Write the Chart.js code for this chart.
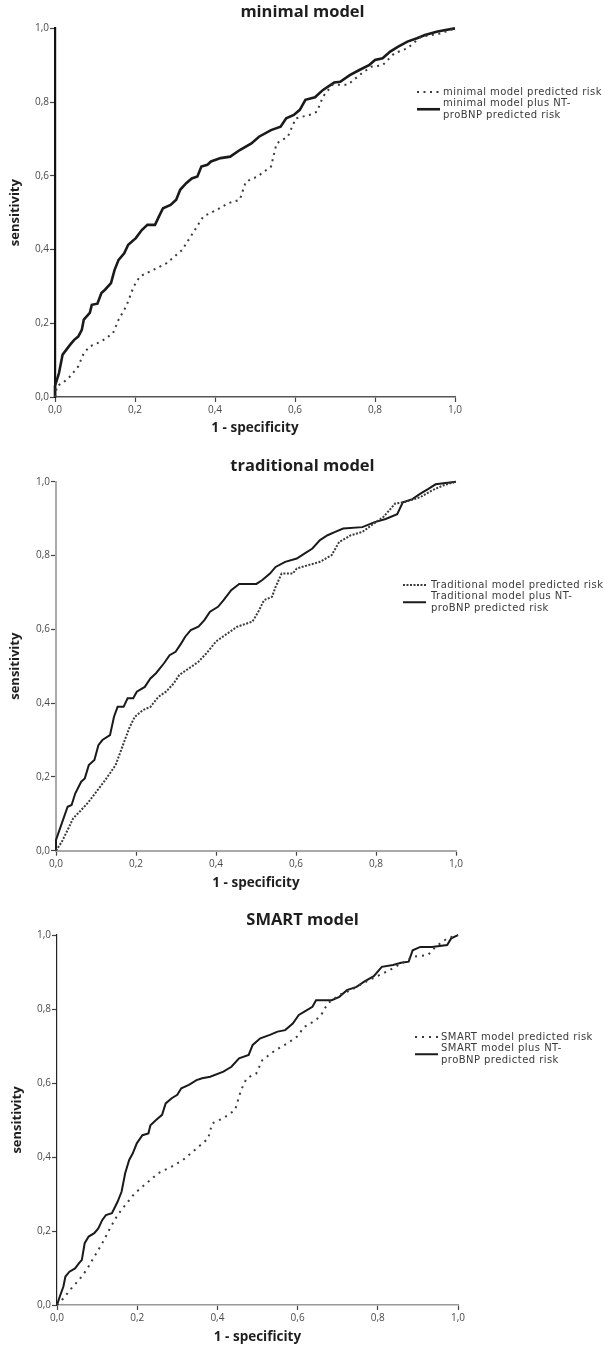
<!DOCTYPE html>
<html><head><meta charset="utf-8">
<script src="https://cdn.jsdelivr.net/npm/chart.js@4.4.0/dist/chart.umd.min.js"></script>
<style>
html,body{margin:0;padding:0;background:#fff;width:605px;height:1345px;overflow:hidden}
canvas{position:absolute;left:0}
</style></head><body>
<canvas id="c1" width="605" height="445" style="top:0px"></canvas>
<canvas id="c2" width="605" height="450" style="top:445px"></canvas>
<canvas id="c3" width="605" height="450" style="top:895px"></canvas>
<script>
// ---- data ----
const tickValues = [0, 0.2, 0.4, 0.6, 0.8, 1.0];
const tickLabels = ['0,0', '0,2', '0,4', '0,6', '0,8', '1,0'];
const chartTitles = ['minimal model', 'traditional model', 'SMART model'];
const xAxisTitle = '1 - specificity';
const yAxisTitle = 'sensitivity';

const minimalLegend = [['minimal model predicted risk'], ['minimal model plus NT-', 'proBNP predicted risk']];
const traditionalLegend = [['Traditional model predicted risk'], ['Traditional model plus NT-', 'proBNP predicted risk']];
const smartLegend = [['SMART model predicted risk'], ['SMART model plus NT-', 'proBNP predicted risk']];

const minimalBaseFpr = [0,0.005,0.019,0.038,0.058,0.072,0.087,0.116,0.145,0.159,0.178,0.197,0.212,0.246,0.279,0.318,0.342,0.371,0.405,0.434,0.462,0.477,0.506,0.54,0.554,0.582,0.602,0.636,0.655,0.67,0.694,0.732,0.761,0.79,0.819,0.848,0.881,0.915,0.963,1];
const minimalBaseTpr = [0,0.03,0.038,0.056,0.083,0.119,0.137,0.151,0.173,0.21,0.246,0.3,0.327,0.345,0.363,0.399,0.44,0.49,0.508,0.526,0.535,0.584,0.598,0.625,0.688,0.706,0.756,0.765,0.774,0.815,0.847,0.847,0.873,0.896,0.9,0.932,0.946,0.977,0.986,1];
const minimalNtFpr = [0,0,0.01,0.019,0.038,0.048,0.058,0.067,0.072,0.087,0.092,0.106,0.116,0.125,0.14,0.149,0.159,0.173,0.183,0.202,0.217,0.231,0.25,0.26,0.27,0.289,0.303,0.313,0.328,0.342,0.356,0.366,0.381,0.39,0.414,0.438,0.462,0.491,0.51,0.54,0.564,0.578,0.597,0.612,0.626,0.65,0.67,0.698,0.713,0.737,0.761,0.785,0.8,0.819,0.838,0.857,0.881,0.905,0.925,0.954,0.973,1];
const minimalNtTpr = [0,0.03,0.065,0.115,0.142,0.155,0.164,0.182,0.21,0.228,0.25,0.253,0.282,0.291,0.309,0.345,0.372,0.39,0.413,0.431,0.453,0.467,0.467,0.49,0.512,0.521,0.535,0.562,0.58,0.593,0.598,0.625,0.63,0.639,0.648,0.652,0.67,0.688,0.706,0.724,0.733,0.756,0.765,0.779,0.806,0.813,0.833,0.853,0.855,0.873,0.887,0.9,0.914,0.919,0.937,0.95,0.964,0.973,0.982,0.991,0.995,1];

const traditionalBaseFpr = [0,0.0145,0.029,0.043,0.063,0.082,0.101,0.12,0.135,0.149,0.169,0.183,0.197,0.217,0.236,0.256,0.275,0.294,0.308,0.332,0.356,0.376,0.4,0.429,0.453,0.491,0.506,0.52,0.54,0.549,0.564,0.592,0.602,0.631,0.66,0.689,0.708,0.737,0.766,0.795,0.819,0.848,0.872,0.91,0.939,0.968,1];
const traditionalBaseTpr = [0,0.024,0.056,0.088,0.11,0.133,0.16,0.187,0.21,0.232,0.291,0.332,0.363,0.381,0.39,0.417,0.431,0.453,0.476,0.494,0.512,0.535,0.567,0.589,0.607,0.621,0.648,0.679,0.688,0.715,0.751,0.751,0.765,0.774,0.783,0.801,0.837,0.855,0.864,0.887,0.905,0.941,0.945,0.958,0.976,0.99,1];
const traditionalNtFpr = [0,0,0.0145,0.029,0.039,0.048,0.063,0.072,0.082,0.096,0.106,0.116,0.135,0.145,0.154,0.169,0.179,0.193,0.202,0.222,0.236,0.25,0.27,0.284,0.299,0.313,0.323,0.337,0.356,0.371,0.385,0.405,0.419,0.438,0.458,0.501,0.515,0.535,0.549,0.573,0.602,0.621,0.641,0.66,0.679,0.698,0.718,0.766,0.795,0.824,0.853,0.867,0.891,0.91,0.93,0.949,1];
const traditionalNtTpr = [0,0.029,0.074,0.119,0.124,0.155,0.187,0.196,0.232,0.246,0.286,0.3,0.313,0.363,0.39,0.39,0.413,0.413,0.431,0.444,0.467,0.481,0.508,0.53,0.539,0.562,0.58,0.598,0.607,0.625,0.648,0.661,0.679,0.706,0.723,0.723,0.733,0.751,0.769,0.783,0.792,0.805,0.819,0.842,0.855,0.864,0.873,0.877,0.89,0.899,0.912,0.944,0.953,0.967,0.98,0.993,1];

const smartBaseFpr = [0,0.016,0.036,0.055,0.074,0.093,0.113,0.132,0.151,0.17,0.194,0.223,0.252,0.286,0.314,0.338,0.377,0.387,0.415,0.444,0.459,0.473,0.497,0.512,0.545,0.574,0.598,0.617,0.646,0.661,0.675,0.704,0.733,0.762,0.795,0.829,0.867,0.887,0.925,0.944,0.973,1];
const smartBaseTpr = [0,0.018,0.045,0.068,0.095,0.131,0.167,0.207,0.243,0.27,0.302,0.329,0.356,0.374,0.392,0.414,0.45,0.491,0.505,0.527,0.581,0.613,0.626,0.662,0.689,0.707,0.725,0.752,0.77,0.788,0.815,0.838,0.851,0.869,0.887,0.905,0.928,0.941,0.946,0.968,0.991,1];
const smartNtFpr = [0,0.007,0.016,0.021,0.031,0.045,0.055,0.062,0.069,0.079,0.093,0.103,0.113,0.122,0.137,0.151,0.161,0.17,0.18,0.189,0.199,0.213,0.228,0.233,0.247,0.262,0.271,0.286,0.3,0.31,0.329,0.348,0.362,0.382,0.415,0.435,0.454,0.478,0.488,0.507,0.531,0.55,0.569,0.588,0.603,0.617,0.637,0.646,0.685,0.704,0.723,0.747,0.766,0.79,0.81,0.838,0.858,0.877,0.887,0.906,0.935,0.973,0.983,1];
const smartNtTpr = [0,0.023,0.05,0.077,0.09,0.099,0.113,0.122,0.167,0.185,0.194,0.207,0.23,0.243,0.248,0.279,0.306,0.356,0.392,0.41,0.437,0.459,0.464,0.486,0.5,0.514,0.545,0.559,0.568,0.586,0.595,0.608,0.613,0.617,0.631,0.644,0.667,0.676,0.703,0.721,0.73,0.739,0.743,0.761,0.784,0.793,0.806,0.824,0.824,0.833,0.851,0.86,0.874,0.889,0.914,0.919,0.925,0.928,0.959,0.968,0.968,0.973,0.991,1];

// ---- rendering ----
const FONT = "'Open Sans', 'Noto Sans', sans-serif";
const LEGEND_FONT = "'DejaVu Sans', 'Open Sans', sans-serif";
Chart.defaults.font.family = FONT;

const pts = (xs, ys) => xs.map((x, i) => ({ x: x, y: ys[i] }));

const rocLegend = {
  id: 'rocLegend',
  afterDraw(chart, args, opts) {
    const ctx = chart.ctx;
    const labels = opts.labels || [];
    ctx.save();
    ctx.font = opts.fontSize + 'px ' + LEGEND_FONT;
    if ('letterSpacing' in ctx) ctx.letterSpacing = opts.letterSpacing;
    ctx.textBaseline = 'middle';
    ctx.textAlign = 'left';
    let k = 0;
    chart.data.datasets.forEach((ds, i) => {
      const lines = labels[i] || [ds.label];
      const ys = lines.map((_, j) => opts.rowY[k + j]);
      lines.forEach((t, j) => { ctx.fillStyle = opts.color; ctx.fillText(t, opts.textX, ys[j]); });
      const sy = ys.reduce((a, b) => a + b, 0) / ys.length;
      ctx.beginPath();
      ctx.strokeStyle = ds.borderColor;
      ctx.lineWidth = ds.borderWidth;
      ctx.setLineDash(ds.borderDash || []);
      ctx.moveTo(opts.sampleX0, sy);
      ctx.lineTo(opts.sampleX1, sy);
      ctx.stroke();
      k += lines.length;
    });
    ctx.restore();
  }
};

function makeChart(id, title, series, legendLabels, st) {
  const datasets = series.map((s, i) => ({
    label: legendLabels[i].join(' '),
    data: s,
    showLine: true,
    pointRadius: 0,
    tension: 0,
    clip: false,
    borderColor: st.colors[i],
    borderWidth: st.widths[i],
    borderDash: st.dashes[i],
    borderCapStyle: 'butt',
    borderJoinStyle: 'miter'
  }));
  const setTicks = s => { s.ticks = tickValues.map(v => ({ value: v })); };
  const legendOpts = Object.assign({ labels: legendLabels }, st.legend);
  return new Chart(document.getElementById(id), {
    type: 'scatter',
    data: { datasets },
    plugins: [rocLegend],
    options: {
      responsive: false,
      animation: false,
      layout: { padding: 0 },
      plugins: {
        legend: { display: false },
        tooltip: { enabled: false },
        title: {
          display: true, text: title, color: '#1e1e1e',
          font: { size: 16.5, weight: 'bold', family: FONT, lineHeight: 1.1 },
          padding: st.titlePad
        },
        rocLegend: legendOpts
      },
      scales: {
        x: {
          type: 'linear', min: 0, max: 1,
          afterBuildTicks: setTicks,
          afterFit: s => { s.height = st.xHeight; },
          ticks: { callback: (v, i) => tickLabels[i], color: '#4a4a4a', font: { size: 10 }, padding: 2, maxRotation: 0, autoSkip: false },
          grid: { display: true, drawOnChartArea: false, drawTicks: true, tickLength: 5, tickColor: st.tickColor, tickWidth: 1.2 },
          border: { display: true, color: st.xBorder[0], width: st.xBorder[1] },
          title: { display: true, text: xAxisTitle, color: '#1e1e1e', font: { size: 13.5, weight: 'bold', family: FONT }, padding: { top: 0, bottom: st.xTitleBottom } }
        },
        y: {
          type: 'linear', min: 0, max: 1, position: 'left',
          afterBuildTicks: setTicks,
          afterFit: s => { s.width = st.yWidth; },
          ticks: { callback: (v, i) => tickLabels[i], color: '#4a4a4a', font: { size: 10 }, padding: 1 },
          grid: { display: true, drawOnChartArea: false, drawTicks: true, tickLength: 5, tickColor: st.tickColor, tickWidth: 1.2 },
          border: { display: true, color: st.yBorder[0], width: st.yBorder[1] },
          title: { display: true, text: yAxisTitle, color: '#1e1e1e', font: { size: 13, weight: 'bold', family: FONT }, padding: { top: st.yTitleTop, bottom: 0 } }
        },
        yR: {
          type: 'linear', min: 0, max: 1, position: 'right', display: true,
          ticks: { display: false }, grid: { display: false }, border: { display: false },
          afterFit: s => { s.width = st.rightWidth; }
        }
      }
    }
  });
}

makeChart('c1', chartTitles[0],
  [pts(minimalBaseFpr, minimalBaseTpr), pts(minimalNtFpr, minimalNtTpr)], minimalLegend, {
  colors: ['#3a3a3a', '#1a1a1a'], widths: [2, 2.6], dashes: [[2, 4.5], []],
  titlePad: { top: 3.4, bottom: 6.8 }, xHeight: 48, xTitleBottom: 8.5, yWidth: 55, yTitleTop: 7, rightWidth: 150,
  tickColor: '#444', xBorder: ['#555', 1.6], yBorder: ['#111', 2.2],
  legend: { fontSize: 10, letterSpacing: '0.45px', color: '#3a3a3a', textX: 443, sampleX0: 417, sampleX1: 440, rowY: [92, 103.5, 115] }
});

makeChart('c2', chartTitles[1],
  [pts(traditionalBaseFpr, traditionalBaseTpr), pts(traditionalNtFpr, traditionalNtTpr)], traditionalLegend, {
  colors: ['#3a3a3a', '#1a1a1a'], widths: [2, 2], dashes: [[2, 1.5], []],
  titlePad: { top: 11.9, bottom: 6.7 }, xHeight: 44.3, xTitleBottom: 3.5, yWidth: 56, yTitleTop: 7.5, rightWidth: 149,
  tickColor: '#444', xBorder: ['#aaa', 2], yBorder: ['#aaa', 2],
  legend: { fontSize: 10, letterSpacing: '0.45px', color: '#3a3a3a', textX: 431, sampleX0: 403, sampleX1: 426, rowY: [140, 151.5, 163] }
});

makeChart('c3', chartTitles[2],
  [pts(smartBaseFpr, smartBaseTpr), pts(smartNtFpr, smartNtTpr)], smartLegend, {
  colors: ['#3a3a3a', '#1a1a1a'], widths: [2, 2], dashes: [[2, 5], []],
  titlePad: { top: 16.6, bottom: 5.3 }, xHeight: 40, xTitleBottom: 0, yWidth: 57, yTitleTop: 9, rightWidth: 147,
  tickColor: '#444', xBorder: ['#999', 1.5], yBorder: ['#222', 1.2],
  legend: { fontSize: 10, letterSpacing: '0.45px', color: '#3a3a3a', textX: 441, sampleX0: 415, sampleX1: 438, rowY: [142, 153.5, 165] }
});
</script>
</body></html>
